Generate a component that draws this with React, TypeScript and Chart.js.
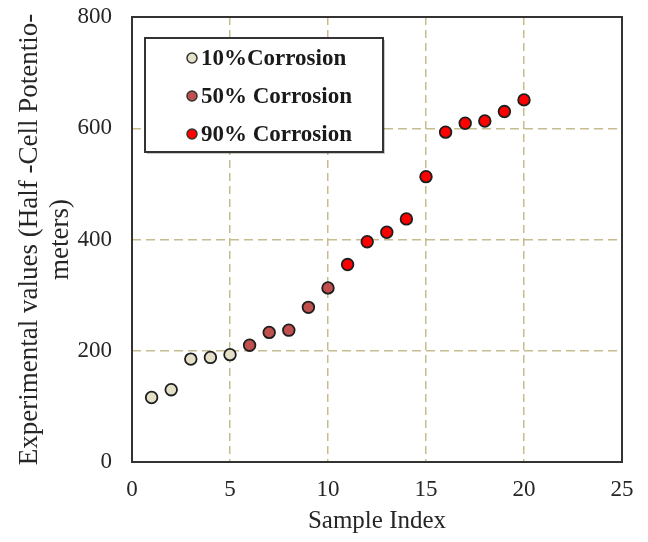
import React, { useEffect, useRef } from "react";
import { Chart, registerables } from "chart.js";

Chart.register(...registerables);

const seriesLabels = ["10%Corrosion", "50% Corrosion", "90% Corrosion"];
const indices10 = [1, 2, 3, 4, 5];
const values10 = [116, 130, 185, 188, 193];
const indices50 = [6, 7, 8, 9, 10];
const values50 = [210, 233, 237, 278, 313];
const indices90 = [11, 12, 13, 14, 15, 16, 17, 18, 19, 20];
const values90 = [355, 396, 413, 437, 513, 593, 609, 613, 630, 651];
const seriesColors = ["#e4e0c8", "#c0504d", "#ff0000"];
const xTickValues = [0, 5, 10, 15, 20, 25];
const yTickValues = [0, 200, 400, 600, 800];

const toPoints = (xs: number[], ys: number[]) => xs.map((x, i) => ({ x, y: ys[i] }));

const frameColor = "#333333";
const gridColor = "#c6bc8e";
const textColor = "#262626";

const framePlugin = {
  id: "frameBox",
  beforeDatasetsDraw(chart: any) {
    const { ctx, chartArea } = chart;
    ctx.save();
    ctx.lineWidth = 2;
    ctx.strokeStyle = frameColor;
    ctx.strokeRect(chartArea.left, chartArea.top, chartArea.right - chartArea.left, chartArea.bottom - chartArea.top);
    ctx.restore();
  },
};

const legendPlugin = {
  id: "boxLegend",
  afterDraw(chart: any) {
    const { ctx, chartArea } = chart;
    const x = chartArea.left + 13;
    const y = chartArea.top + 21;
    const w = 238;
    const h = 114;
    ctx.save();
    ctx.fillStyle = "rgba(0,0,0,0.22)";
    ctx.fillRect(x + 2, y + 2, w, h);
    ctx.fillStyle = "#ffffff";
    ctx.fillRect(x, y, w, h);
    ctx.lineWidth = 2;
    ctx.strokeStyle = frameColor;
    ctx.strokeRect(x, y, w, h);
    chart.data.datasets.forEach((ds: any, i: number) => {
      const cy = y + 20 + i * 38;
      ctx.beginPath();
      ctx.arc(x + 47, cy, 5, 0, Math.PI * 2);
      ctx.fillStyle = ds.backgroundColor;
      ctx.fill();
      ctx.lineWidth = 1.5;
      ctx.strokeStyle = "#333";
      ctx.stroke();
      ctx.fillStyle = "#1a1a1a";
      ctx.font = 'bold 23px "Liberation Serif", "Times New Roman", serif';
      ctx.textBaseline = "middle";
      ctx.textAlign = "left";
      ctx.fillText(ds.label, x + 56, cy + 1);
    });
    ctx.restore();
  },
};

export default function App() {
  const canvasRef = useRef<HTMLCanvasElement | null>(null);

  useEffect(() => {
    if (!canvasRef.current) return;
    const serif = '"Liberation Serif", "Times New Roman", serif';
    const pointStyle = (color: string) => ({
      backgroundColor: color,
      borderColor: "#1e1e1e",
      borderWidth: 1.8,
      pointRadius: 5.8,
      pointHoverRadius: 5.8,
    });
    const chart = new Chart(canvasRef.current, {
      type: "scatter",
      data: {
        datasets: [
          { label: seriesLabels[0], data: toPoints(indices10, values10), ...pointStyle(seriesColors[0]) },
          { label: seriesLabels[1], data: toPoints(indices50, values50), ...pointStyle(seriesColors[1]) },
          { label: seriesLabels[2], data: toPoints(indices90, values90), ...pointStyle(seriesColors[2]) },
        ],
      },
      options: {
        responsive: false,
        animation: false,
        layout: { padding: { top: 17, right: 26, left: 0, bottom: 0 } },
        plugins: { legend: { display: false }, tooltip: { enabled: false } },
        scales: {
          x: {
            type: "linear",
            min: xTickValues[0],
            max: xTickValues[xTickValues.length - 1],
            afterBuildTicks: (scale: any) => {
              scale.ticks = xTickValues.map((v) => ({ value: v }));
            },
            afterFit: (scale: any) => {
              scale.height = 80;
              scale.paddingLeft = 0;
              scale.paddingRight = 0;
            },
            ticks: {
              color: textColor,
              font: { family: serif, size: 23 },
              padding: 14,
              maxRotation: 0,
            },
            grid: {
              drawTicks: false,
              lineWidth: 1.5,
              color: (c: any) =>
                c.tick && (c.tick.value === xTickValues[0] || c.tick.value === xTickValues[xTickValues.length - 1])
                  ? "rgba(0,0,0,0)"
                  : gridColor,
            },
            border: { display: false, dash: [8, 5] },
            title: {
              display: true,
              text: "Sample Index",
              color: textColor,
              font: { family: serif, size: 25 },
              padding: { top: 0, bottom: 6 },
            },
          },
          y: {
            type: "linear",
            min: yTickValues[0],
            max: yTickValues[yTickValues.length - 1],
            afterBuildTicks: (scale: any) => {
              scale.ticks = yTickValues.map((v) => ({ value: v }));
            },
            afterFit: (scale: any) => {
              scale.width = 132;
              scale.paddingTop = 0;
              scale.paddingBottom = 0;
            },
            ticks: {
              color: textColor,
              font: { family: serif, size: 23 },
              padding: 20,
            },
            grid: {
              drawTicks: false,
              lineWidth: 1.5,
              color: (c: any) =>
                c.tick && (c.tick.value === yTickValues[0] || c.tick.value === yTickValues[yTickValues.length - 1])
                  ? "rgba(0,0,0,0)"
                  : gridColor,
            },
            border: { display: false, dash: [9, 5] },
            title: {
              display: true,
              text: ["Experimental values (Half -Cell Potentio-", "meters)"],
              color: textColor,
              font: { family: serif, size: 27, lineHeight: 1.15 },
              padding: { top: 14.5, bottom: 0 },
            },
          },
        },
      },
      plugins: [framePlugin, legendPlugin],
    });
    return () => chart.destroy();
  }, []);

  return (
    <div style={{ position: "absolute", left: 0, top: 0, width: 648, height: 542, background: "#fff" }}>
      <canvas ref={canvasRef} width={648} height={542} style={{ display: "block", width: 648, height: 542 }} />
    </div>
  );
}
